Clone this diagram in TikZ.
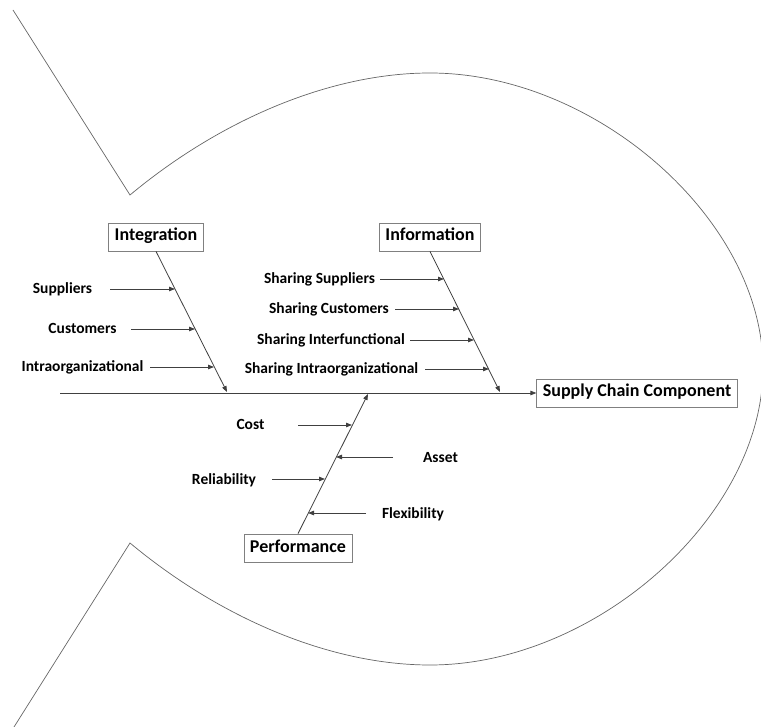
\documentclass[tikz,border=0pt]{standalone}
\usepackage{fontspec}
\setmainfont{Carlito}
\usetikzlibrary{arrows.meta}

\begin{document}
\begin{tikzpicture}[x=1pt,y=-1pt]
\useasboundingbox (0,0) rectangle (761,727);

\draw[black!60,line width=0.7pt] (13,10) -- (130,195)
    .. controls (220,120) and (330,73) .. (430,73)
    .. controls (596,73) and (763,220) .. (763,368)
    .. controls (763,516) and (596,665) .. (430,665)
    .. controls (330,665) and (220,618) .. (130,543)
    -- (14,727);

\begin{scope}[every node/.style={draw=black!50,thick,font=\bfseries\fontsize{18}{20}\selectfont,
              text height=12pt,text depth=4pt,inner xsep=6pt,inner ysep=6pt}]
    \node (INT) at (156,237) {Integration};
    \node (INF) at (430,237) {Information};
    \node (PER) at (298,548) {Performance};
    \node (SCC) at (637,393) {Supply Chain Component};
\end{scope}

\begin{scope}[every node/.style={font=\bfseries\fontsize{15.5}{17}\selectfont,
              text height=10pt,text depth=0pt,inner sep=0pt}]
    \node (SUP) at (62.5,289) {Suppliers};
    \node (CUS) at (82.5,329) {Customers};
    \node (INO) at (82.5,367) {Intraorganizational};
    \node (SSU) at (319.5,279) {Sharing Suppliers};
    \node (SCU) at (329,309) {Sharing Customers};
    \node (SIF) at (331,340) {Sharing Interfunctional};
    \node (SIO) at (331.5,369) {Sharing Intraorganizational};
    \node (COS) at (250.5,425) {Cost};
    \node (AST) at (440.5,457) {Asset};
    \node (REL) at (224,479) {Reliability};
    \node (FLX) at (413,513) {Flexibility};
\end{scope}

\coordinate (TAIL) at (60,393);
\coordinate (INTtip) at (227,392);
\coordinate (INFtip) at (500,392);
\coordinate (PERtip) at (368,394);

\coordinate (SUPa) at (110,289);  \coordinate (SUPb) at (175,289);
\coordinate (CUSa) at (131,329);  \coordinate (CUSb) at (195,329);
\coordinate (INOa) at (150,367);  \coordinate (INOb) at (214,367);
\coordinate (SSUa) at (380,279);  \coordinate (SSUb) at (444,279);
\coordinate (SCUa) at (395,309);  \coordinate (SCUb) at (459,309);
\coordinate (SIFa) at (410,340);  \coordinate (SIFb) at (474,340);
\coordinate (SIOa) at (425,369);  \coordinate (SIOb) at (489,369);
\coordinate (COSa) at (298,425);  \coordinate (COSb) at (352,425);
\coordinate (ASTa) at (393,457);  \coordinate (ASTb) at (336,457);
\coordinate (RELa) at (272,479);  \coordinate (RELb) at (325,479);
\coordinate (FLXa) at (366,513);  \coordinate (FLXb) at (308,513);

\begin{scope}[every edge/.style={draw=black!75,line width=0.8pt,-{Triangle[length=6pt,width=4.5pt]}}]
    \path (TAIL) edge (SCC.west);
    \path (INT.south) edge (INTtip);
    \path (INF.south) edge (INFtip);
    \path (PER.north) edge (PERtip);
    \path (SUPa) edge (SUPb);
    \path (CUSa) edge (CUSb);
    \path (INOa) edge (INOb);
    \path (SSUa) edge (SSUb);
    \path (SCUa) edge (SCUb);
    \path (SIFa) edge (SIFb);
    \path (SIOa) edge (SIOb);
    \path (COSa) edge (COSb);
    \path (ASTa) edge (ASTb);
    \path (RELa) edge (RELb);
    \path (FLXa) edge (FLXb);
\end{scope}
\end{tikzpicture}
\end{document}
